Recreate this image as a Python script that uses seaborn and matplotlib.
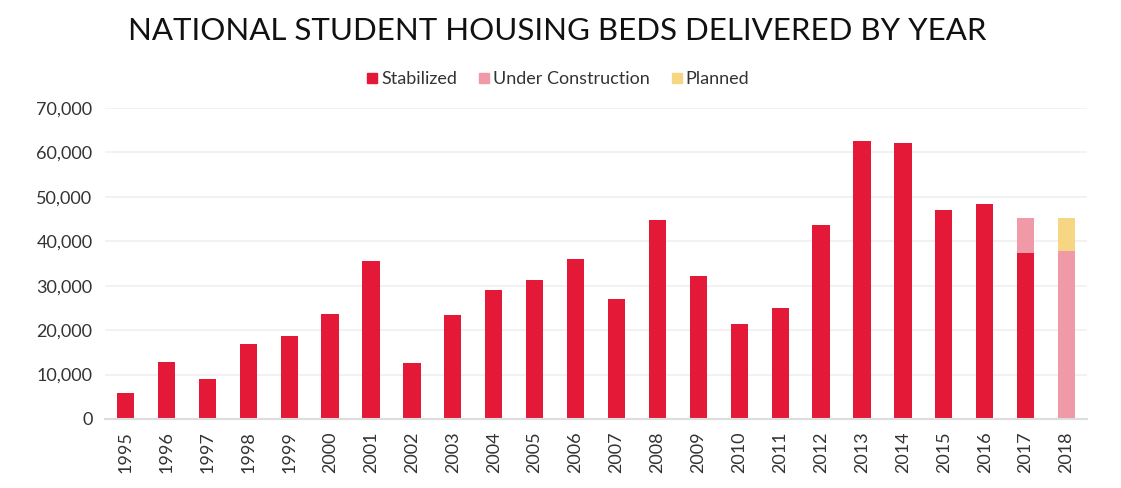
import pandas as pd
import matplotlib.pyplot as plt
import seaborn as sns
from matplotlib.lines import Line2D
from matplotlib.ticker import FuncFormatter

years = [str(y) for y in range(1995, 2019)]
stabilized = [5900, 12900, 9000, 16900, 18700, 23600, 35600, 12500, 23500, 29000,
              31200, 36000, 27100, 44900, 32100, 21400, 25000, 43600, 62500, 62200,
              47100, 48500, 37400, 0]
under_construction = [0] * 22 + [7900, 37800]
planned = [0] * 23 + [7500]

RED = '#e31937'
PINK = '#f09aa8'
YELLOW = '#f6d683'

sns.set_theme(style='white')
plt.rcParams['font.family'] = ['Lato', 'DejaVu Sans']

df = pd.DataFrame({'year': years, 'stabilized': stabilized,
                   'under_construction': under_construction, 'planned': planned})
df['uc_bottom'] = df['stabilized']
df['pl_bottom'] = df['stabilized'] + df['under_construction']

fig = plt.figure(figsize=(11.21, 4.88), dpi=100)
ax = fig.add_axes([0.0937, 0.1414, 0.876, 0.6373])

sns.barplot(data=df, x='year', y='stabilized', color=RED, saturation=1,
            width=0.42, linewidth=0, ax=ax)
sns.barplot(data=df, x='year', y='under_construction', color=PINK, saturation=1,
            width=0.42, linewidth=0, bottom=df['uc_bottom'].values, ax=ax)
sns.barplot(data=df, x='year', y='planned', color=YELLOW, saturation=1,
            width=0.42, linewidth=0, bottom=df['pl_bottom'].values, ax=ax)

ax.set_ylim(0, 70000)
ax.set_xlim(-0.5, len(years) - 0.5)
ax.set_yticks(range(0, 70001, 10000))
ax.yaxis.set_major_formatter(FuncFormatter(lambda v, p: f'{int(v):,}'))
ax.grid(axis='y', color='#f0f0f0', linewidth=1.2)
ax.set_axisbelow(True)
for s in ['top', 'right', 'left']:
    ax.spines[s].set_visible(False)
ax.spines['bottom'].set_color('#dddddd')
ax.spines['bottom'].set_linewidth(1.5)
ax.set_xlabel('')
ax.set_ylabel('')
ax.tick_params(axis='x', rotation=90, labelsize=13, colors='#333333', length=0, pad=9)
ax.tick_params(axis='y', labelsize=13, colors='#333333', length=0, pad=9)

fig.suptitle('NATIONAL STUDENT HOUSING BEDS DELIVERED BY YEAR', x=0.497, y=0.965,
             fontsize=22.5, color='#111111')

handles = [Line2D([0], [0], marker='s', linestyle='', color=c, markersize=7)
           for c in [RED, PINK, YELLOW]]
fig.legend(handles, ['Stabilized', 'Under Construction', 'Planned'], loc='center',
           bbox_to_anchor=(0.497, 0.838), ncol=3, frameon=False,
           prop={'size': 13}, labelcolor='#333333',
           handletextpad=0.1, columnspacing=1.1, handlelength=0.8)

plt.savefig('out.png', dpi=100)
